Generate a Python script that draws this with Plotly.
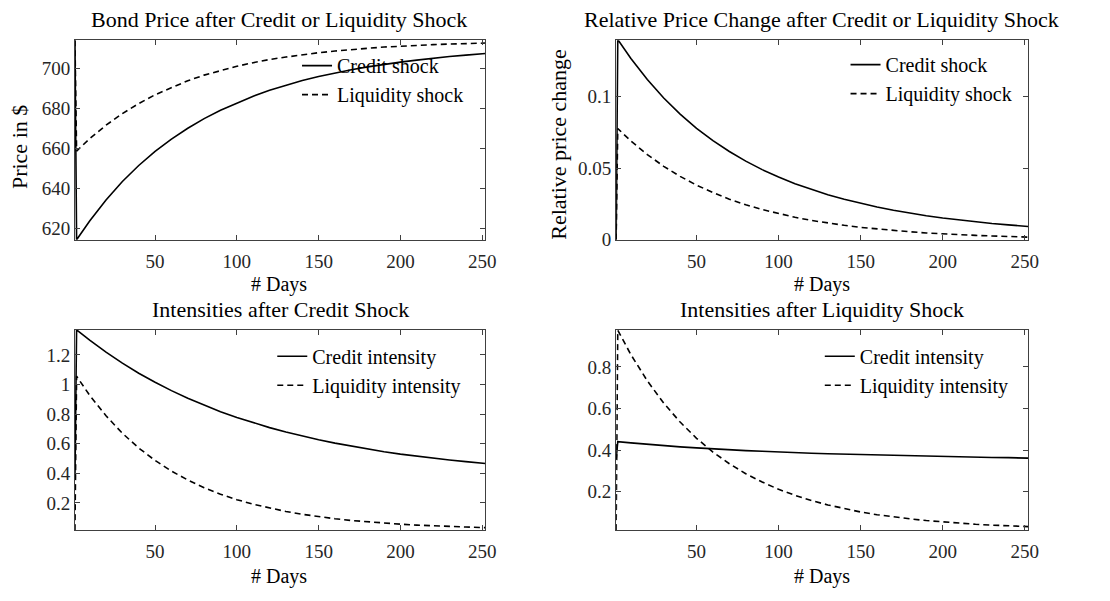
import plotly.graph_objects as go

# ---------------- data ----------------
days = [1, 2, 10, 20, 30, 40, 50, 60, 70, 80, 90, 100, 110, 120, 130, 140, 150,
        160, 170, 180, 190, 200, 210, 220, 230, 240, 250, 252]

price_credit = [713.9, 614.3, 623.7, 634.2, 643.4, 651.4, 658.4, 664.6, 670.0, 674.8,
                679.0, 682.7, 686.0, 688.9, 691.5, 693.8, 695.8, 697.6, 699.2, 700.6,
                701.9, 703.0, 704.0, 705.0, 705.8, 706.5, 707.1, 707.3]
price_liquidity = [713.9, 658.6, 664.8, 671.5, 677.3, 682.3, 686.7, 690.4, 693.7, 696.5,
                   698.8, 700.9, 702.7, 704.3, 705.5, 706.7, 707.7, 708.5, 709.3, 709.9,
                   710.5, 711.0, 711.3, 711.7, 712.0, 712.3, 712.5, 712.5]

rel_credit = [0.0, 0.1395, 0.1263, 0.1116, 0.0988, 0.0876, 0.0777, 0.0691, 0.0615, 0.0548,
              0.0489, 0.0437, 0.0391, 0.0350, 0.0314, 0.0282, 0.0254, 0.0229, 0.0206, 0.0186,
              0.0168, 0.0152, 0.0138, 0.0125, 0.0114, 0.0104, 0.0095, 0.0093]
rel_liquidity = [0.0, 0.0775, 0.0688, 0.0594, 0.0512, 0.0442, 0.0381, 0.0329, 0.0283, 0.0244,
                 0.0211, 0.0182, 0.0157, 0.0135, 0.0117, 0.0101, 0.0087, 0.0075, 0.0064, 0.0056,
                 0.0048, 0.0041, 0.0036, 0.0031, 0.0027, 0.0023, 0.0020, 0.0019]

cs_credit_int = [0.36, 1.370, 1.300, 1.219, 1.145, 1.077, 1.016, 0.959, 0.908, 0.861,
                 0.817, 0.778, 0.742, 0.709, 0.679, 0.652, 0.627, 0.604, 0.583, 0.564,
                 0.546, 0.530, 0.515, 0.502, 0.490, 0.479, 0.468, 0.466]
cs_liq_int = [0.016, 1.056, 0.927, 0.789, 0.671, 0.571, 0.487, 0.415, 0.355, 0.303,
              0.259, 0.222, 0.191, 0.164, 0.142, 0.123, 0.106, 0.093, 0.081, 0.071,
              0.063, 0.056, 0.050, 0.044, 0.040, 0.037, 0.033, 0.033]

ls_credit_int = [0.356, 0.441, 0.435, 0.428, 0.422, 0.416, 0.411, 0.406, 0.402, 0.398,
                 0.395, 0.391, 0.388, 0.385, 0.383, 0.381, 0.378, 0.376, 0.374, 0.372,
                 0.370, 0.368, 0.367, 0.366, 0.365, 0.364, 0.363, 0.362]
ls_liq_int = [0.016, 0.976, 0.859, 0.733, 0.626, 0.535, 0.457, 0.391, 0.335, 0.287,
              0.247, 0.212, 0.183, 0.158, 0.137, 0.119, 0.103, 0.090, 0.079, 0.070,
              0.062, 0.055, 0.049, 0.044, 0.040, 0.036, 0.033, 0.033]

x_ticks = [50, 100, 150, 200, 250]
x_ticktext = ["50", "100", "150", "200", "250"]
y1_ticks = [620, 640, 660, 680, 700]
y1_ticktext = ["620", "640", "660", "680", "700"]
y2_ticks = [0, 0.05, 0.1]
y2_ticktext = ["0", "0.05", "0.1"]
y3_ticks = [0.2, 0.4, 0.6, 0.8, 1.0, 1.2]
y3_ticktext = ["0.2", "0.4", "0.6", "0.8", "1", "1.2"]
y4_ticks = [0.2, 0.4, 0.6, 0.8]
y4_ticktext = ["0.2", "0.4", "0.6", "0.8"]

titles = ["Bond Price after Credit or Liquidity Shock",
          "Relative Price Change after Credit or Liquidity Shock",
          "Intensities after Credit Shock",
          "Intensities after Liquidity Shock"]
xlabel = "# Days"
ylabels = ["Price in $", "Relative price change"]

# ---------------- layout helpers ----------------
W, H = 1110, 601
FONT = "Liberation Serif"
AX = "#404040"

def py(p):
    return 1 - p / H

def px(p):
    return p / W

dom_x_left = [px(75.7), px(490.3)]
dom_x_right = [px(622.3), px(1038.3)]
dom_y_top = [py(244.3), py(41)]
dom_y_bot = [py(540), py(336)]

fig = go.Figure()

panels = [
    (price_credit, price_liquidity, "Credit shock", "Liquidity shock", "x", "y", "legend"),
    (rel_credit, rel_liquidity, "Credit shock", "Liquidity shock", "x2", "y2", "legend2"),
    (cs_credit_int, cs_liq_int, "Credit intensity", "Liquidity intensity", "x3", "y3", "legend3"),
    (ls_credit_int, ls_liq_int, "Credit intensity", "Liquidity intensity", "x4", "y4", "legend4"),
]
for s1, s2, n1, n2, xa, ya, lg in panels:
    fig.add_trace(go.Scatter(x=days, y=s1, name=n1, mode="lines", xaxis=xa, yaxis=ya,
                             legend=lg, line=dict(color="black", width=1.6)))
    fig.add_trace(go.Scatter(x=days, y=s2, name=n2, mode="lines", xaxis=xa, yaxis=ya,
                             legend=lg, line=dict(color="black", width=1.6, dash="6px,4px")))

def xax(domain, anchor):
    return dict(domain=domain, anchor=anchor, range=[1, 252], tickvals=x_ticks,
                ticktext=x_ticktext, ticks="inside", ticklen=5, tickcolor=AX,
                showline=True, linecolor=AX, linewidth=1, mirror="allticks",
                ticklabelstandoff=4,
                showgrid=False, zeroline=False, tickfont=dict(family=FONT, size=19, color="#262626"))

def yax(domain, anchor, rng, tv, tt):
    return dict(domain=domain, anchor=anchor, range=rng, tickvals=tv, ticktext=tt,
                ticks="inside", ticklen=5, tickcolor=AX, showline=True, linecolor=AX,
                linewidth=1, mirror="allticks", showgrid=False, zeroline=False,
                tickfont=dict(family=FONT, size=19, color="#262626"))

leg_common = dict(bgcolor="rgba(0,0,0,0)", borderwidth=0, font=dict(family=FONT, size=20, color="black"),
                  xanchor="left", yanchor="top", itemwidth=30, tracegroupgap=0)

fig.update_layout(
    width=W, height=H, margin=dict(l=0, r=0, t=0, b=0),
    paper_bgcolor="white", plot_bgcolor="white",
    font=dict(family=FONT, color="black"),
    xaxis=xax(dom_x_left, "y"),
    yaxis=yax(dom_y_top, "x", [614.3, 713.9], y1_ticks, y1_ticktext),
    xaxis2=xax(dom_x_right, "y2"),
    yaxis2=yax(dom_y_top, "x2", [0, 0.139], y2_ticks, y2_ticktext),
    xaxis3=xax(dom_x_left, "y3"),
    yaxis3=yax(dom_y_bot, "x3", [0.016, 1.370], y3_ticks, y3_ticktext),
    xaxis4=xax(dom_x_right, "y4"),
    yaxis4=yax(dom_y_bot, "x4", [0.016, 0.978], y4_ticks, y4_ticktext),
    legend=dict(x=px(300), y=py(47), **leg_common),
    legend2=dict(x=px(854), y=py(46), **leg_common),
    legend3=dict(x=px(275), y=py(343), **leg_common),
    legend4=dict(x=px(828), y=py(343), **leg_common),
    showlegend=True,
)

ann = []
title_pos = [(282, 19.7), (830, 19.7), (283, 315.5), (830, 315.5)]
for t, (cx, cy) in zip(titles, title_pos):
    ann.append(dict(text=t, x=px(cx), y=py(cy), xref="paper", yref="paper", showarrow=False,
                    borderpad=0, borderwidth=0,
                    xanchor="center", yanchor="middle", font=dict(family=FONT, size=22, color="black")))
for cx, cy in [(282, 290), (830, 290), (282, 587), (830, 587)]:
    ann.append(dict(text=xlabel, x=px(cx), y=py(cy), xref="paper", yref="paper", showarrow=False,
                    borderpad=0, borderwidth=0,
                    xanchor="center", yanchor="middle", font=dict(family=FONT, size=20, color="black")))
for t, (cx, cy) in zip(ylabels, [(19, 150), (564, 147)]):
    ann.append(dict(text=t, x=px(cx), y=py(cy), xref="paper", yref="paper", showarrow=False,
                    borderpad=0, borderwidth=0,
                    textangle=-90, xanchor="center", yanchor="middle",
                    font=dict(family=FONT, size=22, color="black")))
fig.update_layout(annotations=ann)

fig.write_html("out.html")
